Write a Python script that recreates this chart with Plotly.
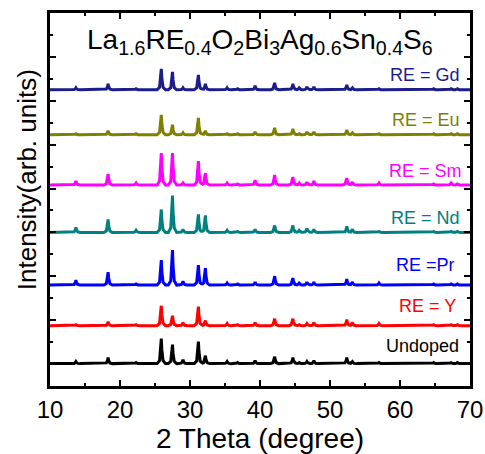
import numpy as np
import plotly.graph_objects as go

# ---------------- data ----------------
peak_pos = [13.7, 18.3, 22.3, 25.9, 27.5, 29.0, 31.2, 32.2, 35.3, 36.8, 39.3, 42.1,
            44.7, 45.6, 46.7, 47.7, 52.4, 53.2, 57.0, 64.8, 67.3, 68.2]

samples = ["RE = Gd", "RE = Eu", "RE = Sm", "RE = Nd", "RE =Pr", "RE = Y", "Undoped"]

# peak intensities (arb. units) for each sample, in the order of peak_pos
I_gd = [2, 6, 1, 21, 18, 2, 15, 6, 2, 1, 4, 7, 6, 2, 3, 3, 5, 2, 1, 1, 1, 1]
I_eu = [1, 4, 1, 20, 10, 2, 17, 4, 1, 1, 3, 7, 6, 1, 3, 3, 5, 2, 1, 1, 1, 1]
I_sm = [4, 11, 2, 32, 32, 2, 24, 12, 2, 1, 5, 10, 8, 2, 3, 4, 7, 3, 2, 1, 2, 1]
I_nd = [5, 13, 2, 23, 37, 3, 18, 17, 2, 1, 3, 7, 7, 2, 4, 3, 6, 3, 1, 1, 1, 1]
I_pr = [5, 13, 1, 25, 35, 4, 20, 17, 2, 1, 3, 9, 7, 2, 3, 3, 6, 3, 2, 1, 1, 1]
I_y = [1, 4, 1, 20, 10, 3, 19, 5, 2, 1, 3, 7, 7, 1, 2, 3, 6, 3, 2, 1, 1, 1]
I_un = [2, 6, 1, 25, 19, 4, 22, 8, 2, 1, 3, 7, 6, 1, 2, 3, 6, 2, 1, 1, 1, 1]
intensities = [I_gd, I_eu, I_sm, I_nd, I_pr, I_y, I_un]

# vertical offsets of the stacked patterns
offsets = [13.5, 11.45, 9.16, 7.0, 4.6, 2.75, 1.02]

x_ticks = [10, 20, 30, 40, 50, 60, 70]

# ---------------- styles ----------------
colors = ["#1c1c8a", "#808000", "#ff00ff", "#008080", "#0000ff", "#ff0000", "#000000"]
label_x = [68.86, 68.86, 69.14, 68.86, 68.14, 68.29, 68.71]
label_y = [14.18, 12.13, 9.81, 7.67, 5.53, 3.66, 1.84]
SCALE = 22.0  # intensity units per axis unit
prof_dx = [-0.6, -0.25, -0.08, 0.0, 0.08, 0.25, 0.6]
prof_f = [0.0, 0.12, 0.55, 1.0, 0.55, 0.12, 0.0]


def pattern(heights):
    knots = {10.0, 70.0}
    for p in peak_pos:
        for d in prof_dx:
            knots.add(round(p + d, 3))
    xs = sorted(knots)
    ys = []
    for x in xs:
        v = 0.0
        for p, h in zip(peak_pos, heights):
            v = max(v, h * float(np.interp(x - p, prof_dx, prof_f, left=0, right=0)))
        ys.append(v / SCALE)
    return xs, ys


fig = go.Figure()
for name, I, off, c in zip(samples, intensities, offsets, colors):
    xs, ys = pattern(I)
    fig.add_trace(go.Scatter(x=xs, y=[off + v for v in ys], mode="lines",
                             line=dict(color=c, width=3), name=name,
                             showlegend=False))

font = "Arial, Liberation Sans, sans-serif"
for name, c, lx, ly in zip(samples, colors, label_x, label_y):
    fig.add_annotation(x=lx, y=ly, text=name, showarrow=False, xanchor="right",
                       yanchor="middle", font=dict(family=font, size=18, color=c))

fig.add_annotation(
    x=40, y=15.7,
    text="La<sub>1.6</sub>RE<sub>0.4</sub>O<sub>2</sub>Bi<sub>3</sub>Ag<sub>0.6</sub>Sn<sub>0.4</sub>S<sub>6</sub>",
    showarrow=False, xanchor="center", yanchor="middle",
    font=dict(family=font, size=28, color="black"))

# y-axis title as a rotated annotation (placed as in the reference)
fig.add_annotation(
    xref="paper", yref="paper", x=-0.056, y=0.553,
    text="Intensity(arb. units)", textangle=-90, showarrow=False,
    xanchor="center", yanchor="middle",
    font=dict(family=font, size=26, color="black"))

axis_common = dict(showline=True, linecolor="black", linewidth=2.5, mirror="ticks",
                   ticks="inside", ticklen=6, tickwidth=2, tickcolor="black",
                   showgrid=False, zeroline=False, automargin=False)

fig.update_xaxes(range=[10, 70], tickvals=x_ticks,
                 tickfont=dict(family=font, size=24, color="black"),
                 title=dict(text="2 Theta (degree)", standoff=0,
                            font=dict(family=font, size=28, color="black")),
                 minor=dict(dtick=5, tick0=10, ticklen=3, tickwidth=2, ticks="inside",
                            tickcolor="black"),
                 **axis_common)
fig.update_yaxes(range=[0, 17], tick0=1, dtick=2, showticklabels=False,
                 minor=dict(dtick=1, tick0=0, ticklen=3, tickwidth=2, ticks="inside",
                            tickcolor="black"),
                 **axis_common)

fig.update_layout(width=485, height=454, margin=dict(l=50, r=15, t=13, b=68),
                  plot_bgcolor="white", paper_bgcolor="white")

fig.write_html("out.html")
